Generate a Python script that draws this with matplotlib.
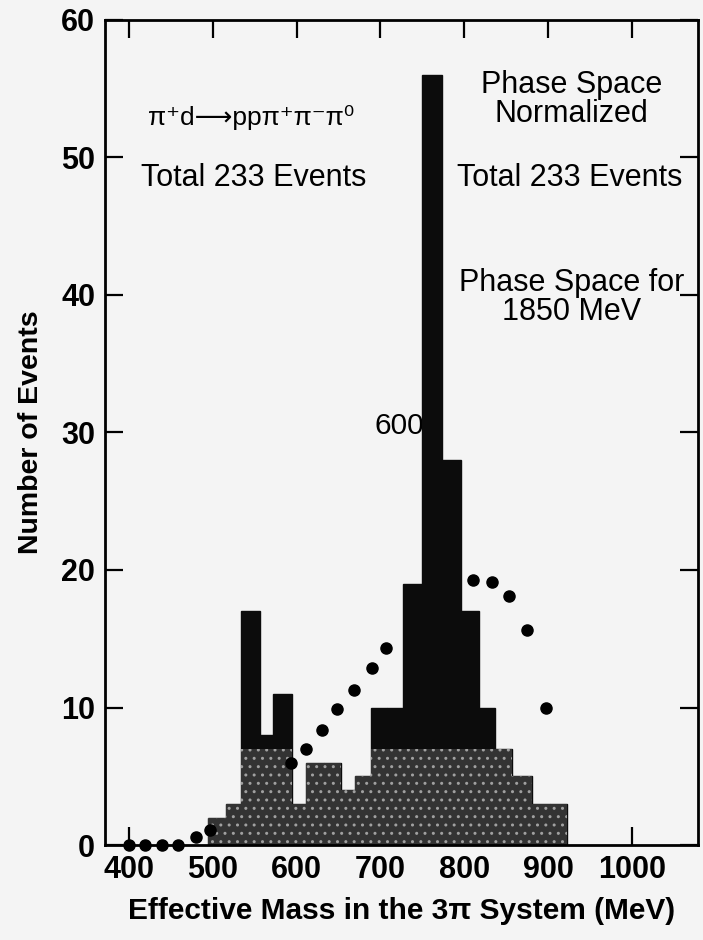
import numpy as np
import matplotlib.pyplot as plt

plt.rcParams['font.family'] = ['Liberation Sans', 'DejaVu Sans']

# histogram of the 3pi effective mass
bin_edges = [494, 516, 533, 556, 572, 595, 611, 633, 653, 670, 689,
             708, 727, 750, 774, 796, 818, 837, 857, 881, 902, 923]
counts = [2, 3, 17, 8, 11, 3, 6, 6, 4, 5, 10,
          10, 19, 56, 28, 17, 10, 7, 5, 3, 3]

# normalized phase space for 1850 MeV (points hidden behind the bars left out)
ps_mass = [400, 419, 439, 458, 480, 496, 593, 611, 630, 648, 668, 690, 707,
           810, 833, 853, 875, 898]
ps_events = [0, 0, 0, 0, 0.6, 1.1, 6.0, 7.0, 8.4, 9.9, 11.3, 12.9, 14.3,
             19.3, 19.1, 18.1, 15.6, 10.0]

xticks = [400, 500, 600, 700, 800, 900, 1000]
yticks = [0, 10, 20, 30, 40, 50, 60]

bg = '#f4f4f4'
fig = plt.figure(figsize=(7.03, 9.40), dpi=100, facecolor=bg)
ax = fig.add_axes([0.149, 0.101, 0.844, 0.878], facecolor=bg)

left = bin_edges[:-1]
widths = np.diff(bin_edges)
ax.bar(left, counts, width=widths, align='edge', color='#0c0c0c',
       edgecolor='#0c0c0c', linewidth=1.0, zorder=2)
# speckled lower part of the printed bars
ax.bar(left, np.minimum(counts, 7), width=widths, align='edge',
       facecolor='#333333', edgecolor='#a0a0a0', hatch='..', linewidth=0, zorder=2.1)

ax.plot(ps_mass, ps_events, 'o', color='black', markersize=8, zorder=3, clip_on=False)

ax.set_xlim(371, 1079)
ax.set_ylim(0, 60)
ax.set_xticks(xticks)
ax.set_yticks(yticks)
ax.set_axisbelow(True)
ax.tick_params(direction='in', length=13, width=1.6, top=True, right=True,
               labelsize=22, pad=7)
for lab in ax.get_xticklabels() + ax.get_yticklabels():
    lab.set_fontweight('bold')
for sp in ax.spines.values():
    sp.set_linewidth(2)
    sp.set_zorder(4)

ax.set_xlabel('Effective Mass in the 3π System (MeV)', fontsize=21.5,
              fontweight='bold', labelpad=9)
ax.set_ylabel('Number of Events', fontsize=20.5, fontweight='bold', labelpad=12)

kw = dict(ha='center', va='center', fontsize=22, linespacing=0.95)
ax.text(546, 52.9, 'π⁺d⟶ppπ⁺π⁻π⁰', ha='center', va='center', fontsize=19,
        family=['Liberation Sans', 'DejaVu Sans'])
ax.text(549, 48.5, 'Total 233 Events', **kw)
ax.text(928, 54.2, 'Phase Space\nNormalized', **kw)
ax.text(926, 48.5, 'Total 233 Events', **kw)
ax.text(928, 39.8, 'Phase Space for\n1850 MeV', **kw)
ax.text(723, 30.5, '600', ha='center', va='center', fontsize=21.5, zorder=1)

fig.savefig('out.png', dpi=100, facecolor=bg)
